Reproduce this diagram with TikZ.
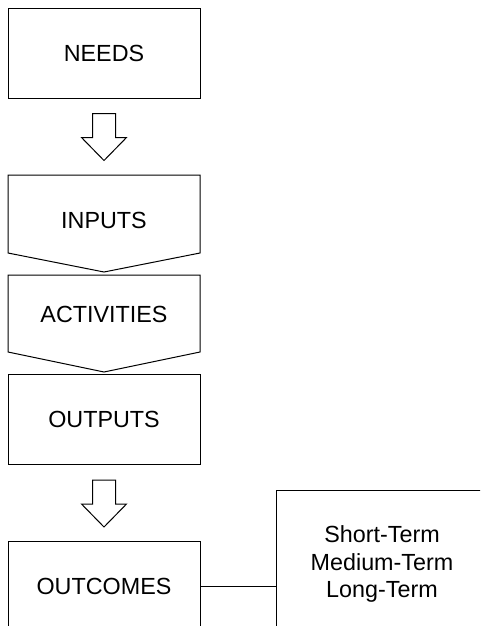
\documentclass[tikz,border=0pt]{standalone}
\usepackage{fontspec}
\setmainfont{Liberation Sans}
\begin{document}
\begin{tikzpicture}[x=0.75pt,y=0.75pt,yscale=-1,xscale=1,
  every node/.style={font=\fontsize{17.5}{20.5}\selectfont},
  stage/.style={draw,line width=0.75pt,inner sep=0pt,minimum width=144pt,minimum height=67.5pt}]
\useasboundingbox (0,0) rectangle (480,626);
\clip (0,0) rectangle (480,626);

%Shape: Rectangle [needs]
\node [stage] (needs) at (104,53) {NEEDS};
%Shape: Pentagon [inputs]
\draw [line width=0.75]  (8,175) -- (200,175) -- (200,253) -- (104,272) -- (8,253) -- cycle ;
%Shape: Pentagon [activities]
\draw [line width=0.75]  (8,275) -- (200,275) -- (200,352) -- (104,372) -- (8,352) -- cycle ;
%Shape: Rectangle [outputs]
\node [stage] (outputs) at (104,419.5) {OUTPUTS};
%Shape: Rectangle [outcomes]
\node [stage] (outcomes) at (104,586) {OUTCOMES};
%Shape: Rectangle [terms]
\node [draw,line width=0.75pt,minimum width=159pt,minimum height=111pt,align=center] (terms) at (382,564) {Short-Term\\Medium-Term\\Long-Term};

%Block arrows under needs and outputs
\foreach \src in {needs,outputs}
  \draw [line width=0.75,shift={(\src.south)}] (-11.5,15) -- (11.5,15) -- (11.5,39) -- (22.5,39) -- (0,62) -- (-22.5,39) -- (-11.5,39) -- cycle ;

%Straight Lines [outcomes to terms]
\draw [line width=0.75]  (outcomes.east) -- (outcomes.east -| terms.west) ;

% Text Node
\node (inputs) at (104,220) {INPUTS};
% Text Node
\node (activities) at (104,314) {ACTIVITIES};
\end{tikzpicture}
\end{document}
